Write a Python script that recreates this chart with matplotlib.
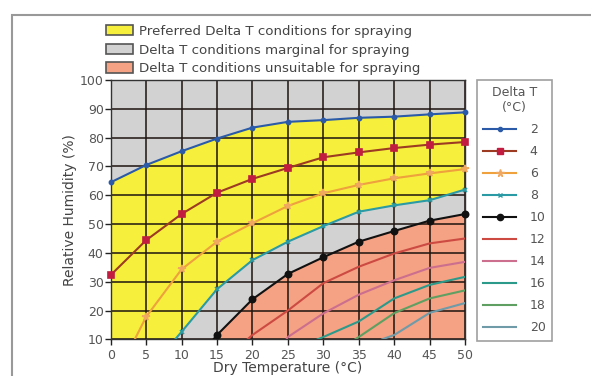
import matplotlib
matplotlib.use("Agg")
import matplotlib.pyplot as plt
from matplotlib.patches import Patch, Rectangle
from matplotlib.lines import Line2D

# Dry temperature (deg C) at the grid columns
temps = [0, 5, 10, 15, 20, 25, 30, 35, 40, 45, 50]

# Relative humidity (%) for each Delta T curve
dt2_x = temps
dt2_y = [64.5, 70.5, 75.3, 79.7, 83.5, 85.5, 86.1, 86.9, 87.3, 88.1, 88.8]
dt4_x = temps
dt4_y = [32.3, 44.4, 53.5, 60.9, 65.7, 69.5, 73.2, 74.9, 76.4, 77.6, 78.5]
dt6_x = [3.4, 5, 10, 15, 20, 25, 30, 35, 40, 45, 50]
dt6_y = [10, 17.8, 34.3, 43.9, 50.3, 56.3, 60.7, 63.6, 65.9, 67.6, 69.1]
dt8_x = [9.1, 10, 15, 20, 25, 30, 35, 40, 45, 50]
dt8_y = [10, 12.6, 27.4, 37.5, 43.9, 49.3, 54.3, 56.5, 58.3, 62.0]
dt10_x = [14.5, 15, 20, 25, 30, 35, 40, 45, 50]
dt10_y = [10, 11.5, 23.9, 32.7, 38.5, 43.9, 47.6, 51.2, 53.5]
dt12_x = [19.3, 20, 25, 30, 35, 40, 45, 50]
dt12_y = [10, 11.5, 20.0, 29.5, 35.2, 39.8, 43.3, 45.0]
dt14_x = [24.8, 25, 30, 35, 40, 45, 50]
dt14_y = [10, 10.8, 19.0, 25.5, 30.5, 34.8, 36.9]
dt16_x = [29.2, 30, 35, 40, 45, 50]
dt16_y = [10, 10.8, 16.2, 24.2, 28.9, 31.7]
dt18_x = [34.5, 35, 40, 45, 50]
dt18_y = [10, 10.8, 19.1, 24.2, 27.0]
dt20_x = [38.3, 40, 45, 50]
dt20_y = [10, 11.5, 19.2, 22.6]

delta_t_labels = ["2", "4", "6", "8", "10", "12", "14", "16", "18", "20"]
x_ticks = [0, 5, 10, 15, 20, 25, 30, 35, 40, 45, 50]
y_ticks = [10, 20, 30, 40, 50, 60, 70, 80, 90, 100]

zone_labels = ["Preferred Delta T conditions for spraying",
               "Delta T conditions marginal for spraying",
               "Delta T conditions unsuitable for spraying"]

YELLOW = "#f6ef3c"
GREY = "#d2d2d2"
SALMON = "#f5a183"

fig = plt.figure(figsize=(5.91, 3.76), dpi=100)
fig.patch.set_facecolor("white")
ax = fig.add_axes([0.1873, 0.0976, 0.787 - 0.1873, 0.787 - 0.0976])

xmin, xmax, ymin, ymax = 0, 50, 10, 100
ax.set_xlim(xmin, xmax)
ax.set_ylim(ymin, ymax)

# Zone fills: grey background, yellow band between DT2 and DT8, salmon below DT10
ax.add_patch(Rectangle((xmin, ymin), xmax - xmin, ymax - ymin,
                       facecolor=GREY, edgecolor="none", zorder=0))
poly_x = list(dt2_x) + ([0] + list(dt8_x))[::-1]
poly_y = list(dt2_y) + ([10] + list(dt8_y))[::-1]
ax.fill(poly_x, poly_y, color=YELLOW, lw=0, zorder=0.5)
ax.fill(list(dt10_x) + [50], list(dt10_y) + [10], color=SALMON, lw=0, zorder=0.5)

# Grid
for gx in x_ticks:
    ax.axvline(gx, color="#1e1410", lw=1.3, alpha=0.85, zorder=1)
for gy in y_ticks:
    ax.axhline(gy, color="#1e1410", lw=1.3, alpha=0.85, zorder=1)

# Curves
series = [
    (dt2_x, dt2_y, "#2a5aa8", "#2a5aa8", "o", 3.0),
    (dt4_x, dt4_y, "#9c3a22", "#c21d40", "s", 4.5),
    (dt6_x, dt6_y, "#eea13c", "#f0a860", "*", 5.5),
    (dt8_x, dt8_y, "#2a9aa4", "#2a9aa4", "x", 3.5),
    (dt10_x, dt10_y, "#111111", "#111111", "o", 4.5),
    (dt12_x, dt12_y, "#cc4a42", None, None, 0),
    (dt14_x, dt14_y, "#cc6f8e", None, None, 0),
    (dt16_x, dt16_y, "#2c9a8a", None, None, 0),
    (dt18_x, dt18_y, "#5f9f62", None, None, 0),
    (dt20_x, dt20_y, "#6f9aa8", None, None, 0),
]
handles = []
for (xs, ys, lc, mc, mk, ms) in series:
    ax.plot(xs, ys, color=lc, lw=1.5, zorder=3, clip_on=True)
    if mk is not None:
        px = [x for x in xs if x in temps]
        py = [y for x, y in zip(xs, ys) if x in temps]
        ax.plot(px, py, ls="none", marker=mk, ms=ms, color=mc,
                mec=mc, mew=1.2, zorder=4, clip_on=False)
        handles.append(Line2D([], [], color=lc, lw=1.5, marker=mk,
                              ms=ms, mfc=mc, mec=mc))
    else:
        handles.append(Line2D([], [], color=lc, lw=1.5))

# Axes styling
ax.set_xticks(x_ticks)
ax.set_yticks(y_ticks)
ax.tick_params(axis="both", colors="#222222", labelcolor="#555555",
               labelsize=9, length=4, width=1, direction="out", pad=1)
ax.tick_params(axis="x", pad=3)
for s in ax.spines.values():
    s.set_color("#333333")
    s.set_linewidth(1)
ax.set_ylabel("Relative Humidity (%)", fontsize=10, color="#444444", labelpad=2)
ax.set_xlabel("Dry Temperature (°C)", fontsize=10, color="#444444", labelpad=-1)

# Delta T legend at right
leg = ax.legend(handles, delta_t_labels, title="Delta T\n(°C)",
                loc="upper left", bbox_to_anchor=(1.034, 1.0),
                frameon=True, fontsize=9, title_fontsize=9,
                handlelength=2.6, handletextpad=1.1, labelspacing=0.72,
                borderpad=0.5, borderaxespad=0, fancybox=False)
leg.get_frame().set_edgecolor("#888888")
leg.get_frame().set_linewidth(1.2)
for t in leg.get_texts():
    t.set_color("#555555")
leg.get_title().set_color("#555555")
leg.get_title().set_multialignment("center")

# Zone legend on top
zone_handles = [Patch(facecolor=c, edgecolor="#555555", lw=1.2)
                for c in (YELLOW, GREY, SALMON)]
fig.legend(zone_handles, zone_labels, loc="upper left",
           bbox_to_anchor=(106 / 591, 1 - 25 / 376), frameon=False,
           fontsize=9.6, handlelength=2.0, handleheight=0.8,
           handletextpad=0.45, labelspacing=0.42, borderpad=0,
           borderaxespad=0, labelcolor="#444444")

# Outer border
fig.add_artist(Rectangle((12 / 591, -0.1), 1.2, 1 - 15 / 376 + 0.1,
                         transform=fig.transFigure, fill=False,
                         edgecolor="#999999", lw=1.5))

fig.savefig("out.png", dpi=100)
